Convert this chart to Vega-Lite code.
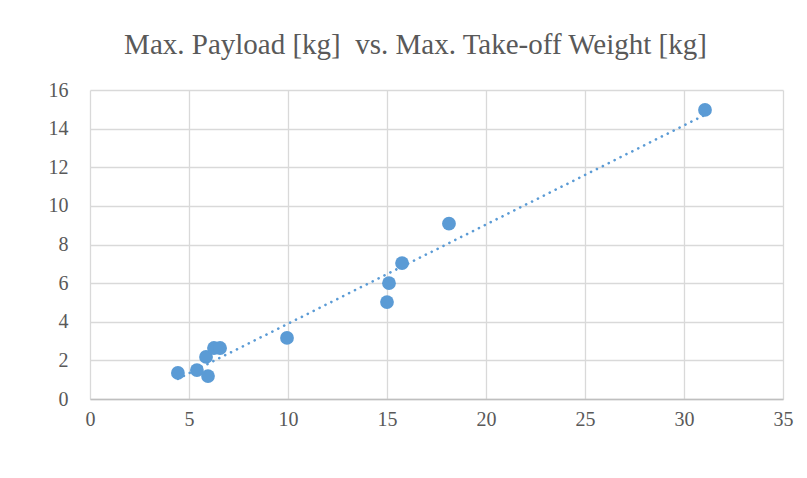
{
  "$schema": "https://vega.github.io/schema/vega-lite/v6.json",
  "width": 693,
  "height": 309,
  "autosize": {"type": "none"},
  "padding": {"left": 90, "top": 90, "right": 24, "bottom": 79},
  "background": "white",
  "config": {
    "font": "Times New Roman",
    "view": {"stroke": null},
    "axis": {
      "labelFont": "Times New Roman",
      "labelFontSize": 20,
      "labelColor": "#595959",
      "gridColor": "#d9d9d9",
      "gridWidth": 1.3,
      "ticks": false,
      "title": null
    }
  },
  "title": {
    "text": "Max. Payload [kg] \u00a0vs. Max. Take-off Weight [kg]",
    "font": "Times New Roman",
    "fontSize": 29,
    "fontWeight": "normal",
    "color": "#595959",
    "anchor": "middle",
    "dx": -21,
    "offset": 20
  },
  "data": {
    "values": [
      {"mtow": 4.44, "payload": 1.35},
      {"mtow": 5.4, "payload": 1.5},
      {"mtow": 5.96, "payload": 1.19},
      {"mtow": 5.86, "payload": 2.18},
      {"mtow": 6.26, "payload": 2.64},
      {"mtow": 6.57, "payload": 2.64},
      {"mtow": 9.95, "payload": 3.16},
      {"mtow": 15.0, "payload": 5.02},
      {"mtow": 15.1, "payload": 6.0},
      {"mtow": 15.76, "payload": 7.04},
      {"mtow": 18.13, "payload": 9.08},
      {"mtow": 31.06, "payload": 14.97}
    ]
  },
  "encoding": {
    "x": {
      "field": "mtow",
      "type": "quantitative",
      "scale": {"domain": [0, 35], "nice": false},
      "axis": {"values": [0, 5, 10, 15, 20, 25, 30, 35], "labelFont": "Times New Roman", "labelFontSize": 20, "domain": true, "domainColor": "#bfbfbf", "domainWidth": 1.5, "labelPadding": 10, "labelFlush": false}
    },
    "y": {
      "field": "payload",
      "type": "quantitative",
      "scale": {"domain": [0, 16], "nice": false},
      "axis": {"values": [0, 2, 4, 6, 8, 10, 12, 14, 16], "labelFont": "Times New Roman", "labelFontSize": 20, "domain": false, "labelPadding": 22}
    }
  },
  "layer": [
    {
      "transform": [{"regression": "payload", "on": "mtow"}],
      "mark": {"type": "line", "color": "#5B9BD5", "strokeWidth": 2.6, "strokeDash": [0.1, 6.5], "strokeCap": "round"}
    },
    {
      "mark": {"type": "circle", "color": "#5B9BD5", "opacity": 1, "size": 190}
    }
  ]
}
